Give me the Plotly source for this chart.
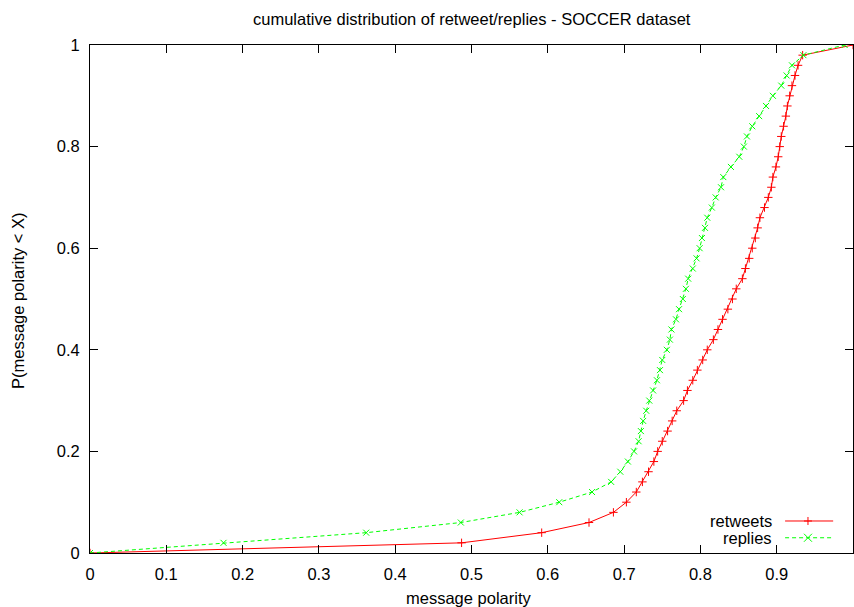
import plotly.graph_objects as go

# cumulative probability levels
ret_y = [0.00, 0.02, 0.04, 0.06, 0.08, 0.10, 0.12, 0.14, 0.16, 0.18, 0.20, 0.22, 0.24,
         0.26, 0.28, 0.30, 0.32, 0.34, 0.36, 0.38, 0.40, 0.42, 0.44, 0.46, 0.48, 0.50,
         0.52, 0.54, 0.56, 0.58, 0.60, 0.62, 0.64, 0.66, 0.68, 0.70, 0.72, 0.74, 0.76,
         0.78, 0.80, 0.82, 0.84, 0.86, 0.88, 0.90, 0.92, 0.94, 0.96, 0.98, 1.00]
ret_x = [0.000, 0.487, 0.592, 0.654, 0.686, 0.703, 0.716, 0.724, 0.732, 0.739, 0.744, 0.750, 0.757,
         0.763, 0.769, 0.778, 0.783, 0.790, 0.796, 0.803, 0.809, 0.817, 0.823, 0.829, 0.836, 0.842,
         0.847, 0.855, 0.859, 0.864, 0.868, 0.872, 0.875, 0.878, 0.884, 0.889, 0.893, 0.895, 0.899,
         0.902, 0.904, 0.906, 0.909, 0.912, 0.914, 0.917, 0.920, 0.924, 0.928, 0.934, 1.000]

rep_y = [0.00, 0.02, 0.04, 0.06, 0.08, 0.10, 0.12, 0.14, 0.16, 0.18, 0.20, 0.22, 0.24,
         0.26, 0.28, 0.30, 0.32, 0.34, 0.36, 0.38, 0.40, 0.42, 0.44, 0.46, 0.48, 0.50,
         0.52, 0.54, 0.56, 0.58, 0.60, 0.62, 0.64, 0.66, 0.68, 0.70, 0.72, 0.74, 0.76,
         0.78, 0.80, 0.82, 0.84, 0.86, 0.88, 0.90, 0.92, 0.94, 0.96, 0.98, 1.00]
rep_x = [0.000, 0.175, 0.362, 0.486, 0.563, 0.615, 0.658, 0.683, 0.695, 0.705, 0.713, 0.719, 0.722,
         0.725, 0.729, 0.733, 0.738, 0.743, 0.747, 0.750, 0.756, 0.760, 0.762, 0.768, 0.772, 0.777,
         0.781, 0.784, 0.790, 0.795, 0.799, 0.802, 0.806, 0.809, 0.815, 0.820, 0.827, 0.830, 0.840,
         0.851, 0.857, 0.861, 0.868, 0.877, 0.886, 0.895, 0.906, 0.913, 0.920, 0.935, 0.989]

x_ticks = [0, 0.1, 0.2, 0.3, 0.4, 0.5, 0.6, 0.7, 0.8, 0.9, 1]
x_tick_labels = ["0", "0.1", "0.2", "0.3", "0.4", "0.5", "0.6", "0.7", "0.8", "0.9", "1"]
y_ticks = [0, 0.2, 0.4, 0.6, 0.8, 1]
y_tick_labels = ["0", "0.2", "0.4", "0.6", "0.8", "1"]

RED = "#ff0000"
GREEN = "#00ff00"
FONT = "Liberation Sans"

fig = go.Figure()
fig.add_trace(go.Scatter(
    x=ret_x, y=ret_y, mode="lines+markers", name="retweets",
    line=dict(color=RED, width=1),
    marker=dict(symbol="cross-thin", size=6, color=RED, line=dict(width=1, color=RED)),
))
fig.add_trace(go.Scatter(
    x=rep_x, y=rep_y, mode="lines+markers", name="replies",
    line=dict(color=GREEN, width=1, dash="4px,3px"),
    marker=dict(symbol="x-thin", size=6, color=GREEN, line=dict(width=1, color=GREEN)),
))

axis_common = dict(
    showline=True, linecolor="black", linewidth=1, mirror="allticks",
    ticks="inside", ticklen=8, tickwidth=1, tickcolor="black",
    showgrid=False, zeroline=False, fixedrange=True,
    tickfont=dict(family=FONT, size=16.5, color="black"),
)
fig.update_xaxes(range=[0, 1], tickvals=x_ticks, ticktext=x_tick_labels,
                 ticklabelstandoff=6, **axis_common)
fig.update_yaxes(range=[0, 1], tickvals=y_ticks, ticktext=y_tick_labels,
                 ticklabelstandoff=6, **axis_common)

annotations = [
    dict(text="cumulative distribution of retweet/replies - SOCCER dataset",
         xref="paper", yref="paper", x=0.5, y=1.051, xanchor="center", yanchor="middle",
         showarrow=False, font=dict(family=FONT, size=16.5, color="black")),
    dict(text="message polarity", xref="paper", yref="paper", x=0.496, y=-0.0886,
         xanchor="center", yanchor="middle", showarrow=False,
         font=dict(family=FONT, size=16.5, color="black")),
    dict(text="P(message polarity < X)", xref="paper", yref="paper", x=-0.0944, y=0.498,
         xanchor="center", yanchor="middle", textangle=-90, showarrow=False,
         font=dict(family=FONT, size=16.5, color="black")),
    dict(text="retweets", xref="paper", yref="paper", x=0.8965, y=0.063,
         xanchor="right", yanchor="middle", showarrow=False,
         font=dict(family=FONT, size=16.5, color="black")),
    dict(text="replies", xref="paper", yref="paper", x=0.8965, y=0.030,
         xanchor="right", yanchor="middle", showarrow=False,
         font=dict(family=FONT, size=16.5, color="black")),
]

# key samples
shapes = []
key_x0, key_x1, key_mx = 0.911, 0.974, 0.941
for ky, col, dash, sym in [(0.063, RED, "solid", "+"), (0.030, GREEN, "4px,3px", "x")]:
    shapes.append(dict(type="line", xref="paper", yref="paper", x0=key_x0, x1=key_x1,
                       y0=ky, y1=ky, line=dict(color=col, width=1, dash=dash)))
    if sym == "+":
        segs = [(-4, 0, 4, 0), (0, -4, 0, 4)]
    else:
        segs = [(-4, -4, 4, 4), (-4, 4, 4, -4)]
    for a, b, c, d in segs:
        shapes.append(dict(type="line", xref="paper", yref="paper",
                           xsizemode="pixel", ysizemode="pixel",
                           xanchor=key_mx, yanchor=ky, x0=a, y0=b, x1=c, y1=d,
                           line=dict(color=col, width=1)))

fig.update_layout(
    width=854, height=607,
    margin=dict(l=90, r=1, t=45, b=54),
    paper_bgcolor="white", plot_bgcolor="white",
    showlegend=False,
    annotations=annotations, shapes=shapes,
    font=dict(family=FONT, size=16.5, color="black"),
)

fig.write_html("out.html")
